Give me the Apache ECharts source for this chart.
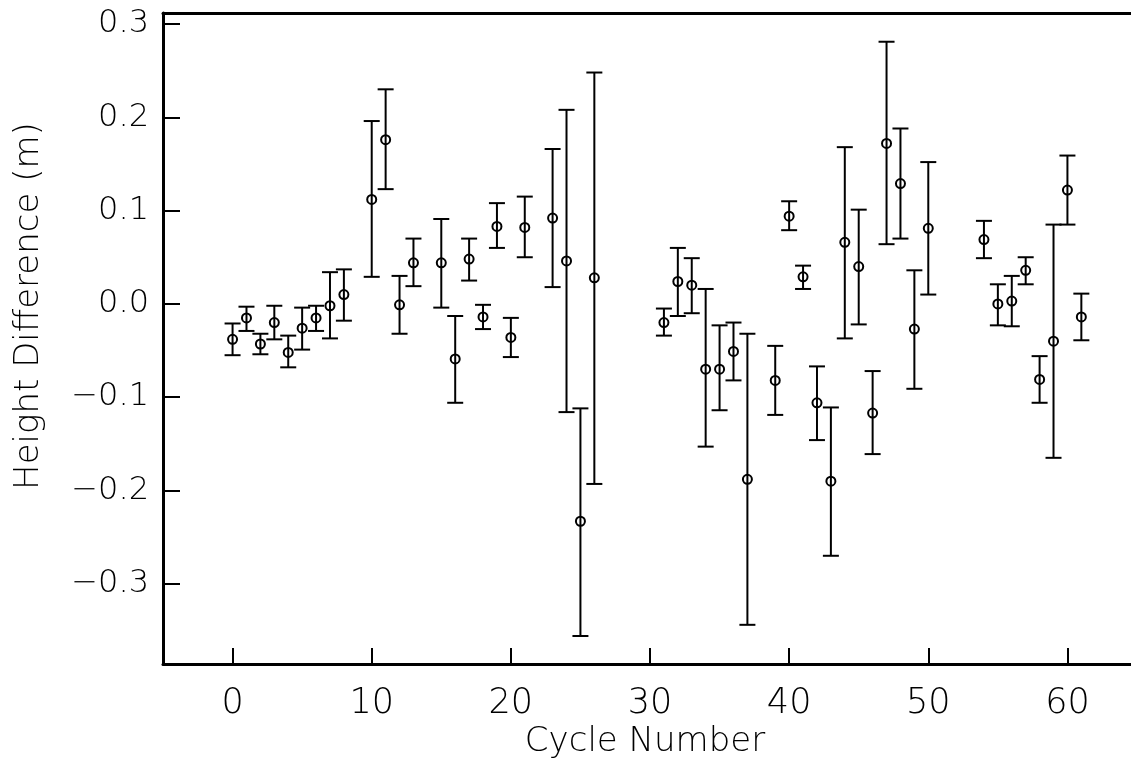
<!DOCTYPE html>
<html>
<head>
<meta charset="utf-8">
<script src="https://cdn.jsdelivr.net/npm/echarts@6/dist/echarts.min.js"></script>
<style>
html,body{margin:0;padding:0;background:#fff;overflow:hidden;}
#chart{width:1131px;height:776px;}
</style>
</head>
<body>
<div id="chart"></div>
<script>
// Data
var cycles = [0,1,2,3,4,5,6,7,8,10,11,12,13,15,16,17,18,19,20,21,23,24,25,26,31,32,33,34,35,36,37,39,40,41,42,43,44,45,46,47,48,49,50,54,55,56,57,58,59,60,61];
var heightDiff = [-0.038,-0.015,-0.043,-0.020,-0.052,-0.026,-0.015,-0.002,0.010,0.112,0.176,-0.001,0.044,0.044,-0.059,0.048,-0.014,0.083,-0.036,0.082,0.092,0.046,-0.233,0.028,-0.020,0.024,0.020,-0.070,-0.070,-0.051,-0.188,-0.082,0.094,0.029,-0.106,-0.190,0.066,0.040,-0.117,0.172,0.129,-0.027,0.081,0.069,0.000,0.003,0.036,-0.081,-0.040,0.122,-0.014];
var upperErr = [-0.021,-0.003,-0.032,-0.002,-0.034,-0.004,-0.002,0.034,0.037,0.196,0.230,0.030,0.070,0.091,-0.013,0.070,-0.001,0.108,-0.015,0.115,0.166,0.208,-0.112,0.248,-0.005,0.060,0.049,0.016,-0.023,-0.020,-0.032,-0.045,0.110,0.041,-0.067,-0.111,0.168,0.101,-0.072,0.281,0.188,0.036,0.152,0.089,0.021,0.030,0.050,-0.056,0.085,0.159,0.011];
var lowerErr = [-0.055,-0.029,-0.054,-0.038,-0.068,-0.049,-0.029,-0.037,-0.018,0.029,0.123,-0.032,0.019,-0.004,-0.106,0.025,-0.027,0.060,-0.057,0.050,0.018,-0.116,-0.356,-0.193,-0.034,-0.013,-0.010,-0.153,-0.114,-0.082,-0.344,-0.119,0.079,0.016,-0.146,-0.270,-0.037,-0.022,-0.161,0.064,0.070,-0.091,0.010,0.049,-0.023,-0.024,0.021,-0.106,-0.165,0.085,-0.039];
var xTickValues = [0,10,20,30,40,50,60];
var yTickValues = [-0.3,-0.2,-0.1,0.0,0.1,0.2,0.3];
var xTitle = 'Cycle Number';
var yTitle = 'Height Difference (m)';

var FONT = '"DejaVu Sans", sans-serif';

var chart = echarts.init(document.getElementById('chart'), null, {renderer:'canvas'});

var errData = cycles.map(function(c, i){ return [c, lowerErr[i], upperErr[i]]; });
var ptData = cycles.map(function(c, i){ return [c, heightDiff[i]]; });

var option = {
  animation: false,
  backgroundColor: '#fff',
  grid: {left:163, right:-6, top:13, bottom:112, show:false, containLabel:false, outerBoundsMode:'none'},
  xAxis: [{
    type:'value', min:-5, max:65, position:'bottom',
    axisLine:{show:true, onZero:false, lineStyle:{color:'#000', width:3}},
    axisTick:{show:true, inside:true, length:16, customValues:xTickValues, lineStyle:{color:'#000', width:2}},
    axisLabel:{show:true, customValues:xTickValues, margin:22, color:'#000', fontFamily:FONT, fontSize:35, fontWeight:200},
    splitLine:{show:false}
  }, {
    type:'value', min:-5, max:65, position:'top',
    axisLine:{show:true, onZero:false, lineStyle:{color:'#000', width:3}},
    axisTick:{show:false}, axisLabel:{show:false}, splitLine:{show:false}
  }],
  yAxis: {
    type:'value', min:-0.386, max:0.3118,
    axisLine:{show:true, onZero:false, lineStyle:{color:'#000', width:3}},
    axisTick:{show:true, inside:true, length:17, customValues:yTickValues, lineStyle:{color:'#000', width:2}},
    axisLabel:{show:true, customValues:yTickValues, margin:14, color:'#000', fontFamily:FONT, fontSize:32, fontWeight:200,
      formatter:function(v){ var s = Math.abs(v).toFixed(1); return v < -1e-9 ? '\u2212' + s : s; }},
    splitLine:{show:false}
  },
  graphic: [
    {type:'text', x:29, y:306, rotation:Math.PI/2, style:{text:yTitle, fill:'#000', font:'200 34px ' + FONT, textAlign:'center', textVerticalAlign:'middle'}},
    {type:'text', x:645, y:742, style:{text:xTitle, fill:'#000', font:'200 34px ' + FONT, textAlign:'center', textVerticalAlign:'middle'}}
  ],
  series: [
    {
      type:'custom',
      data: errData,
      renderItem: function(params, api){
        var x = api.value(0);
        var lo = api.coord([x, api.value(1)]);
        var hi = api.coord([x, api.value(2)]);
        var hw = 8;
        var st = {stroke:'#000', lineWidth:2};
        return {type:'group', children:[
          {type:'line', shape:{x1:lo[0], y1:lo[1], x2:hi[0], y2:hi[1]}, style:st},
          {type:'line', shape:{x1:lo[0]-hw, y1:lo[1], x2:lo[0]+hw, y2:lo[1]}, style:st},
          {type:'line', shape:{x1:hi[0]-hw, y1:hi[1], x2:hi[0]+hw, y2:hi[1]}, style:st}
        ]};
      },
      silent:true, z:2
    },
    {
      type:'scatter',
      data: ptData,
      symbol:'circle', symbolSize:9,
      itemStyle:{color:'rgba(0,0,0,0)', borderColor:'#000', borderWidth:2, opacity:1},
      silent:true, z:3
    }
  ]
};
chart.setOption(option);
</script>
</body>
</html>
